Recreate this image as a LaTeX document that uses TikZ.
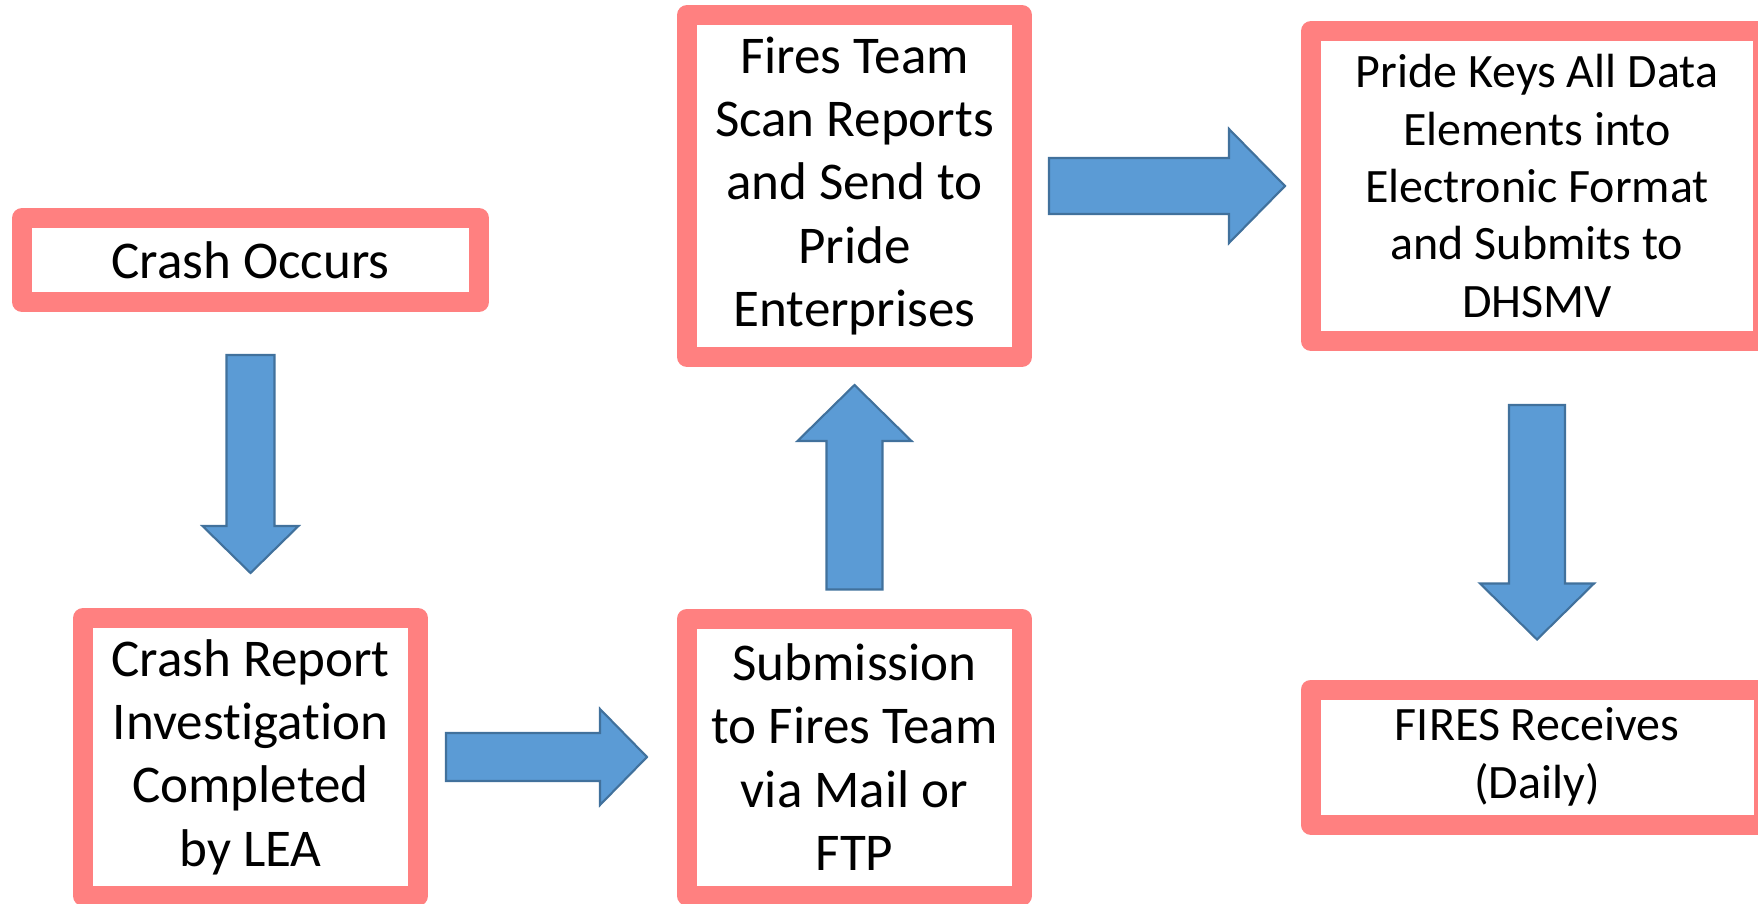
\documentclass[tikz,border=0pt]{standalone}
\usepackage{fontspec}
\setmainfont{Carlito}[Ligatures={NoCommon,NoContextual}]
\usetikzlibrary{calc}

\definecolor{boxline}{RGB}{255,128,128}
\definecolor{arrowfill}{RGB}{91,155,213}
\definecolor{arrowline}{RGB}{65,113,156}

\tikzset{
  flowbox/.style={draw=boxline, line width=0.4cm, line join=round, fill=white,
    inner sep=0pt, outer sep=0pt, align=center, font=\fontsize{30.2}{36}\selectfont},
  smalltext/.style={font=\fontsize{27.3}{32.7}\selectfont},
  % block arrow: half shaft width, half head width, head length
  bluearrow/.style n args={3}{draw=arrowline, fill=arrowfill, line width=1.2pt, line join=miter,
    to path={let \p1=(\tikztostart), \p2=(\tikztotarget), \n1={atan2(\y2-\y1,\x2-\x1)} in
      ($(\p1)+(\n1+90:#1)$) -- ($(\p2)+(\n1:-#3)+(\n1+90:#1)$)
      -- ($(\p2)+(\n1:-#3)+(\n1+90:#2)$) -- (\p2)
      -- ($(\p2)+(\n1:-#3)+(\n1-90:#2)$) -- ($(\p2)+(\n1:-#3)+(\n1-90:#1)$)
      -- ($(\p1)+(\n1-90:#1)$) -- cycle}},
  smallarrow/.style={bluearrow={0.48cm}{0.96cm}{0.94cm}},
  bigarrow/.style={bluearrow={0.56cm}{1.14cm}{1.12cm}}
}

\begin{document}
\begin{tikzpicture}
    \useasboundingbox (0,0) rectangle (35.16,18.06);
    % boxes
    \node[flowbox, minimum width=9.14cm, minimum height=1.68cm] (crash) at (5.01,12.86) {Crash Occurs};
    \node[flowbox, minimum width=6.7cm, minimum height=5.56cm] (report) at (5.01,2.92)
        {Crash Report\\Investigation\\Completed\\by LEA};
    \node[flowbox, minimum width=6.7cm, minimum height=5.54cm] (submit) at (17.09,2.92)
        {Submission\\to Fires Team\\via Mail or\\FTP};
    \node[flowbox, minimum width=6.7cm, minimum height=6.84cm] (scan) at (17.09,14.34)
        {Fires Team\\Scan Reports\\and Send to\\Pride\\Enterprises};
    \node[flowbox, smalltext, minimum width=9.04cm, minimum height=6.2cm] (pride) at (30.74,14.34)
        {Pride Keys All Data\\Elements into\\Electronic Format\\and Submits to\\DHSMV};
    \node[flowbox, smalltext, minimum width=9.06cm, minimum height=2.7cm] (fires) at (30.74,2.92)
        {FIRES Receives\\(Daily)};

    % arrows
    \draw[smallarrow] ($(crash.south)!1.06cm!(report.north)$) to ($(report.north)!0.9cm!(crash.south)$);
    \draw[smallarrow] ($(report.east)!0.56cm!(submit.west)$) to ($(submit.west)!0.8cm!(report.east)$);
    \draw[bigarrow] ($(submit.north)!0.58cm!(scan.south)$) to ($(scan.south)!0.56cm!(submit.north)$);
    \draw[bigarrow] ($(scan.east)!0.54cm!(pride.west)$) to ($(pride.west)!0.52cm!(scan.east)$);
    \draw[bigarrow] ($(pride.south)!1.28cm!(fires.north)$) to ($(fires.north)!1.0cm!(pride.south)$);
\end{tikzpicture}
\end{document}
